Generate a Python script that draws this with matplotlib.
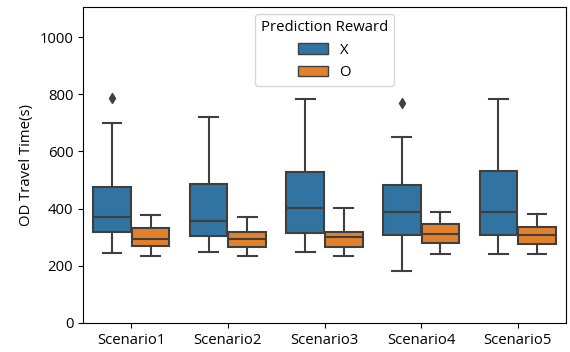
import matplotlib.pyplot as plt
from matplotlib.patches import Patch

plt.rcParams['font.family'] = ['Open Sans', 'DejaVu Sans']

# Box statistics of OD travel time per scenario, read as
# (lower whisker, Q1, median, Q3, upper whisker)
scenarios = ['Scenario1', 'Scenario2', 'Scenario3', 'Scenario4', 'Scenario5']
reward_labels = ['X', 'O']

stats_x = [
    (246, 319, 372, 477, 700),
    (249, 305, 358, 486, 721),
    (249, 315, 403, 529, 782),
    (183, 307, 387, 481, 649),
    (241, 307, 387, 533, 782),
]
stats_o = [
    (235, 270, 293, 331, 376),
    (235, 265, 293, 319, 372),
    (235, 267, 302, 319, 403),
    (241, 280, 311, 345, 387),
    (241, 276, 307, 336, 381),
]
outliers_x = [[786], [], [], [770], []]
outliers_o = [[], [], [], [], []]

colors = ['#3274a1', '#e1812c']
line_color = '#3f3f3f'
fs = 10.7


def make_stats(rows, fliers):
    out = []
    for (lo, q1, med, q3, hi), fl in zip(rows, fliers):
        out.append(dict(whislo=lo, q1=q1, med=med, q3=q3, whishi=hi, fliers=fl))
    return out


fig = plt.figure(figsize=(5.7, 3.52), dpi=100)
ax = fig.add_axes([0.1456, 0.0824, 0.8474, 0.8976])

for k, (rows, fliers) in enumerate([(stats_x, outliers_x), (stats_o, outliers_o)]):
    pos = [i - 0.2 + 0.4 * k for i in range(len(scenarios))]
    ax.bxp(
        make_stats(rows, fliers), positions=pos, widths=0.39, patch_artist=True,
        boxprops=dict(facecolor=colors[k], edgecolor=line_color, linewidth=1.5),
        medianprops=dict(color=line_color, linewidth=1.5),
        whiskerprops=dict(color=line_color, linewidth=1.5),
        capprops=dict(color=line_color, linewidth=1.5),
        flierprops=dict(marker='d', markerfacecolor=line_color,
                        markeredgecolor=line_color, markersize=5),
        manage_ticks=False,
    )

ax.set_xlim(-0.5, len(scenarios) - 0.5)
ax.set_ylim(0, 1105)
ax.set_xticks(range(len(scenarios)))
ax.set_xticklabels(scenarios, fontsize=fs)
ax.set_yticks([0, 200, 400, 600, 800, 1000])
ax.tick_params(labelsize=fs)
ax.set_ylabel('OD Travel Time(s)', fontsize=fs)

handles = [Patch(facecolor=c, edgecolor=line_color, linewidth=1.0) for c in colors]
ax.legend(handles, reward_labels, title='Prediction Reward', loc='upper center',
          fontsize=fs, title_fontsize=fs)

fig.savefig('out.png', dpi=100)
